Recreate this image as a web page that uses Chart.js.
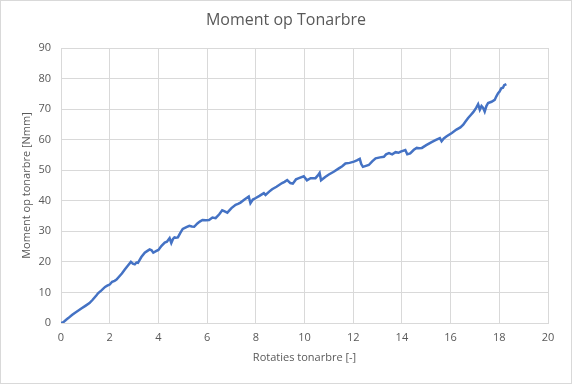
<!DOCTYPE html>
<html>
<head>
<meta charset="utf-8">
<script src="https://cdn.jsdelivr.net/npm/chart.js@4"></script>
<style>
  html, body { margin: 0; padding: 0; background: #fff; }
  #wrap { width: 570px; height: 382px; border: 1px solid #d9d9d9; }
</style>
</head>
<body>
<div id="wrap"><canvas id="chart" width="570" height="382"></canvas></div>
<script>
// Moment op tonarbre vs. rotaties.
const chartTitle = "Moment op Tonarbre";
const rotaties = [
  0, 0.1, 0.2, 0.3, 0.45, 0.55, 0.7, 0.85, 1.0, 1.17,
  1.3, 1.45, 1.53, 1.65, 1.81, 1.9, 2.0, 2.1, 2.2, 2.28,
  2.4, 2.5, 2.62, 2.75, 2.87, 2.95, 3.03, 3.1, 3.16, 3.3,
  3.44, 3.55, 3.64, 3.72, 3.79, 3.9, 4.0, 4.12, 4.26, 4.35,
  4.46, 4.53, 4.6, 4.66, 4.72, 4.8, 4.9, 5.0, 5.15, 5.27,
  5.37, 5.47, 5.6, 5.7, 5.81, 5.95, 6.08, 6.22, 6.35, 6.5,
  6.62, 6.7, 6.83, 7.0, 7.17, 7.27, 7.37, 7.55, 7.71, 7.78,
  7.88, 8.0, 8.15, 8.33, 8.4, 8.55, 8.67, 8.85, 9.08, 9.18,
  9.29, 9.42, 9.52, 9.65, 9.77, 9.97, 10.1, 10.25, 10.45, 10.55,
  10.62, 10.68, 10.85, 11.0, 11.2, 11.41, 11.55, 11.68, 11.85, 12.03,
  12.15, 12.27, 12.33, 12.4, 12.64, 12.78, 12.92, 13.1, 13.26, 13.35,
  13.47, 13.6, 13.74, 13.86, 13.95, 14.14, 14.22, 14.34, 14.49, 14.61,
  14.7, 14.82, 15.0, 15.22, 15.4, 15.56, 15.63, 15.72, 15.84, 16.05,
  16.24, 16.4, 16.52, 16.62, 16.72, 16.82, 16.93, 17.05, 17.13, 17.2,
  17.27, 17.33, 17.4, 17.47, 17.54, 17.68, 17.81, 17.88, 17.95, 18.0,
  18.08, 18.15, 18.2, 18.29
];
const moment = [
  0, 0.3, 1.0, 1.6, 2.6, 3.2, 4.0, 4.8, 5.6, 6.5,
  7.6, 9.0, 9.8, 10.6, 11.8, 12.2, 12.6, 13.5, 13.8, 14.2,
  15.3, 16.2, 17.5, 18.8, 20.0, 19.4, 19.2, 19.8, 19.7, 21.6,
  23.0, 23.6, 24.1, 23.8, 23.0, 23.5, 23.9, 25.2, 26.3, 26.6,
  27.8, 26.2, 27.5, 28.0, 27.9, 28.0, 29.5, 30.8, 31.4, 31.8,
  31.6, 31.5, 32.6, 33.2, 33.7, 33.6, 33.7, 34.5, 34.3, 35.6,
  36.9, 36.6, 36.1, 37.6, 38.7, 39.0, 39.4, 40.5, 41.4, 39.2,
  40.4, 40.9, 41.6, 42.5, 41.9, 43.0, 43.8, 44.6, 45.8, 46.2,
  46.8, 45.8, 45.6, 47.0, 47.4, 48.0, 46.7, 47.4, 47.4, 48.3,
  49.1, 46.7, 47.8, 48.6, 49.5, 50.6, 51.3, 52.2, 52.4, 52.8,
  53.2, 53.7, 52.0, 51.1, 51.7, 52.9, 53.9, 54.2, 54.4, 55.2,
  55.6, 55.2, 55.9, 55.7, 56.1, 56.6, 55.2, 55.5, 56.7, 57.3,
  57.2, 57.3, 58.2, 59.2, 59.9, 60.5, 59.5, 60.4, 61.1, 62.2,
  63.3, 64.0, 64.9, 66.0, 67.1, 68.0, 69.0, 70.4, 71.6, 69.8,
  71.0, 70.5, 69.2, 71.0, 72.0, 72.4, 73.0, 74.2, 75.2, 75.6,
  76.8, 77.0, 77.8, 78.2
];

const TEXT = "#595959";
const GRID = "#d9d9d9";
const FONT = "'Open Sans', 'Liberation Sans', sans-serif";

const points = rotaties.map((x, i) => ({ x, y: moment[i] }));

// Excel centres the title over the whole chart, not the padded box,
// so draw it ourselves.
const centeredTitle = {
  id: "centeredTitle",
  afterDraw(chart) {
    const ctx = chart.ctx;
    ctx.save();
    ctx.fillStyle = TEXT;
    ctx.font = "16px " + FONT;
    ctx.textAlign = "center";
    ctx.textBaseline = "middle";
    ctx.fillText(chartTitle, chart.width / 2, 19);
    ctx.restore();
  },
};

new Chart(document.getElementById("chart").getContext("2d"), {
  type: "scatter",
  data: {
    datasets: [{
      data: points,
      showLine: true,
      borderColor: "#4472c4",
      borderWidth: 2.5,
      pointRadius: 0,
      tension: 0,
      fill: false,
    }],
  },
  options: {
    responsive: false,
    animation: false,
    layout: { padding: { left: 0, right: 23, top: 47, bottom: 0 } },
    plugins: {
      legend: { display: false },
      tooltip: { enabled: false },
      title: { display: false },
    },
    scales: {
      x: {
        type: "linear",
        min: 0, max: 20,
        afterFit: s => { s.height = 60; },
        ticks: { stepSize: 2, color: TEXT, padding: 8, font: { family: FONT, size: 11 } },
        grid: { color: GRID, drawTicks: false },
        border: { color: GRID },
        title: {
          display: true, text: "Rotaties tonarbre [-]", color: TEXT,
          font: { family: FONT, size: 11 }, padding: { top: 4, bottom: 19 },
        },
      },
      y: {
        min: 0, max: 90,
        afterFit: s => { s.width = 60; },
        ticks: { stepSize: 10, color: TEXT, padding: 10, font: { family: FONT, size: 11 } },
        grid: { color: GRID, drawTicks: false },
        border: { color: GRID },
        title: {
          display: true, text: "Moment op tonarbre [Nmm]", color: TEXT,
          font: { family: FONT, size: 11 }, padding: { top: 19, bottom: 4 },
        },
      },
    },
  },
  plugins: [centeredTitle],
});
</script>
</body>
</html>
